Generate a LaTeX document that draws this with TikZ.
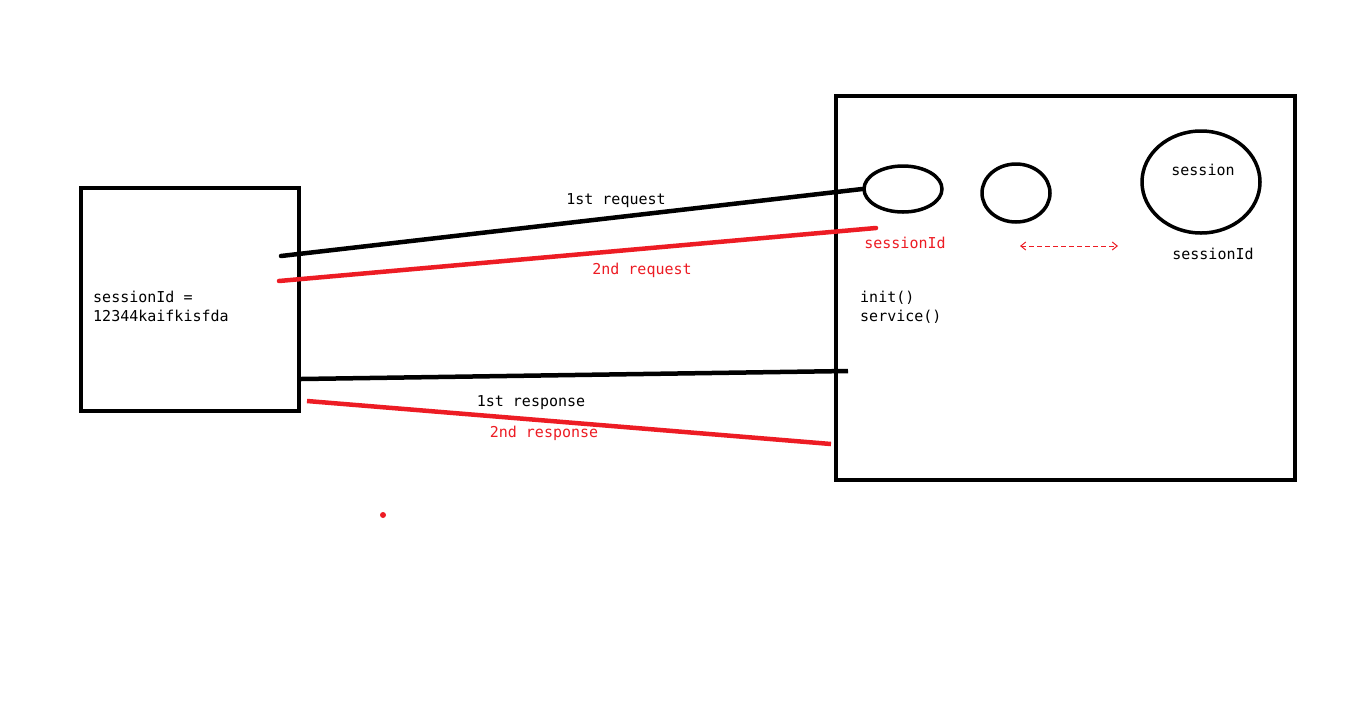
\documentclass[tikz,border=0pt]{standalone}
\usepackage{fontspec}
\setmonofont{DejaVu Sans Mono}
\usetikzlibrary{arrows.meta}
\definecolor{pred}{HTML}{ED1C24}
\tikzset{
  thick line/.style={line width=4.5pt},
  lbl/.style={font=\ttfamily\fontsize{15}{18}\selectfont, inner sep=0pt},
  redlbl/.style={lbl, text=pred},
  oval/.style={draw, ellipse, line width=3.5pt, inner sep=0pt},
}
\usetikzlibrary{shapes.geometric}
\begin{document}
\begin{tikzpicture}[x=1pt,y=-1pt]
\useasboundingbox (0,0) rectangle (1355,716);
\fill[white] (0,0) rectangle (1355,716);
% boxes
\node[draw, line width=4pt, minimum width=218pt, minimum height=223pt, inner sep=0pt] (client) at (190,299.5) {};
\node[draw, line width=4pt, minimum width=459pt, minimum height=384pt, inner sep=0pt] (server) at (1065.5,288) {};
% ovals
\node[oval, minimum width=78pt, minimum height=46pt] (e1) at (903,189) {};
\node[oval, minimum width=68pt, minimum height=58pt] (e2) at (1016,193) {};
\node[oval, minimum width=118pt, minimum height=102pt] (e3) at (1201,182) {};
% endpoints
\coordinate (rq1s) at (281,256);
\coordinate (rq2s) at (279,281);
\coordinate (rq2e) at (876,228);
\coordinate (rs1e) at (848,371);
\coordinate (rs2s) at (307,401);
\coordinate (rs2e) at (831,444);
\coordinate (rs1s) at (client.east |- 0,379);
% connectors
\draw[thick line, line cap=round] (rq1s) -- (e1.west);
\draw[thick line, pred, line cap=round] (rq2s) -- (rq2e);
\draw[thick line] (rs1s) -- (rs1e);
\draw[thick line, pred] (rs2s) -- (rs2e);
% labels
\node[lbl] (t1) at (616,201) {1st request};
\node[redlbl] (t2) at (642,270) {2nd request};
\node[lbl] (t3) at (531,403) {1st response};
\node[redlbl] (t4) at (544,433) {2nd response};
\node[redlbl] (sid1) at (905,243) {sessionId};
\node[lbl] (sid2) at (1213,254) {sessionId};
\node[lbl] (sess) at (1203,170) {session};
\node[lbl, anchor=west] (init) at (860,298) {init()};
\node[lbl, anchor=west] (serv) at (860,317) {service()};
\node[lbl, anchor=west] (cid1) at (93,297) {sessionId =};
\node[lbl, anchor=west] (cid2) at (93,316) {12344kaifkisfda};
% dashed arrow
\coordinate (da) at (1020,246);
\coordinate (db) at (1118,246);
\draw[pred, line width=1pt, dash pattern=on 5pt off 3pt, {Straight Barb[length=5pt,width=8pt]}-{Straight Barb[length=5pt,width=8pt]}] (da) -- (db);
% red dot
\fill[pred] (383,515) circle (3pt);
\end{tikzpicture}
\end{document}
